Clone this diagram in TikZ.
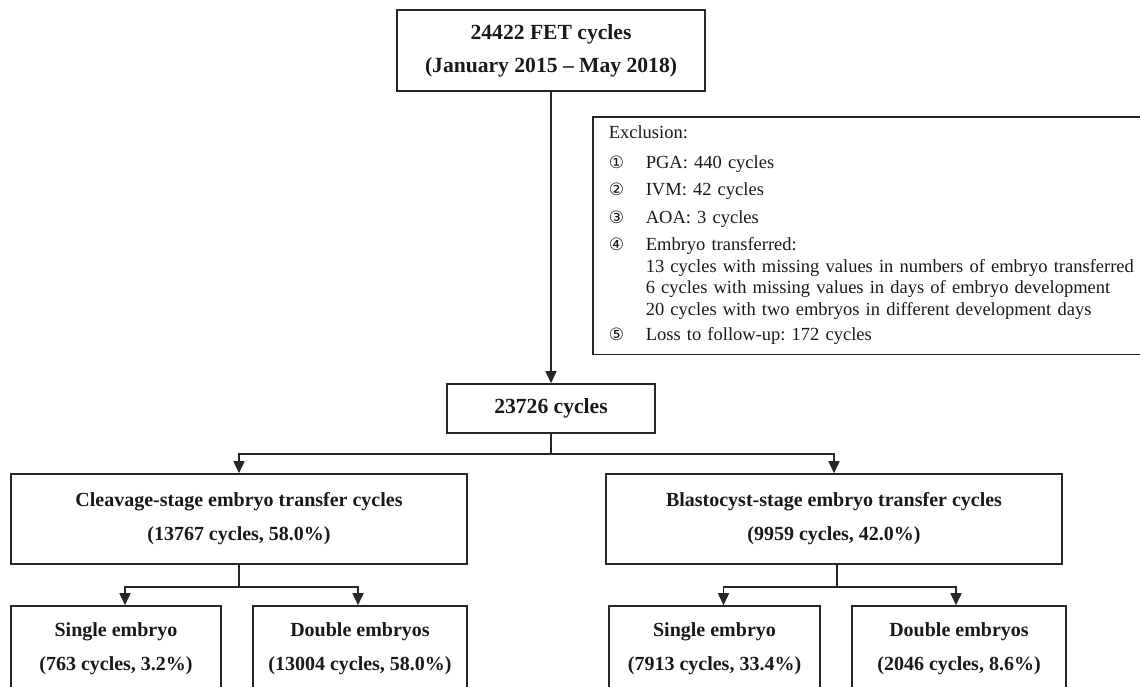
\documentclass[tikz,border=0pt]{standalone}
\usepackage{fontspec}
\setmainfont{Liberation Serif}
\newfontfamily\dejavu{DejaVu Sans}
\usetikzlibrary{positioning}
\usetikzlibrary{arrows.meta}
\newcommand{\cnum}[1]{{\dejavu\fontsize{8.5}{10}\selectfont #1}}
\frenchspacing

\begin{document}
\begin{tikzpicture}[x=0.5pt, y=-0.5pt,
    bx/.style={draw=black!85, line width=0.8pt, align=center, text=black!90, inner sep=0pt, font=\fontsize{10}{17}\selectfont\bfseries},
    bigbx/.style={bx, font=\fontsize{10.8}{16.5}\selectfont\bfseries},
    arr/.style={draw=black!85, line width=0.8pt, -{Triangle[length=6pt,width=5.5pt]}},
    ln/.style={draw=black!85, line width=0.8pt}
    ]
\useasboundingbox (0, 0) rectangle (1140, 686);
\node[bigbx, minimum width=154pt, minimum height=40.5pt] at (551, 50.5) (FET) {24422 FET cycles\\(January 2015 -- May 2018)};
\node[bigbx, minimum width=104pt, minimum height=24.5pt] at (551, 408.5) (ALL) {23726 cycles};
\node[bx, minimum width=228pt, minimum height=45pt] at (239, 519) (CLV) {Cleavage-stage embryo transfer cycles\\(13767 cycles, 58.0\%)};
\node[bx, minimum width=228pt, minimum height=45pt] at (834, 519) (BLS) {Blastocyst-stage embryo transfer cycles\\(9959 cycles, 42.0\%)};
\node[bx, minimum width=105pt, minimum height=43pt] at (116, 649) (CLV1) {Single embryo\\(763 cycles, 3.2\%)};
\node[bx, minimum width=107pt, minimum height=43pt] at (360, 649) (CLV2) {Double embryos\\(13004 cycles, 58.0\%)};
\node[bx, minimum width=105.5pt, minimum height=43pt] at (714.5, 649) (BLS1) {Single embryo\\(7913 cycles, 33.4\%)};
\node[bx, minimum width=107pt, minimum height=43pt] at (959, 649) (BLS2) {Double embryos\\(2046 cycles, 8.6\%)};
\node[draw=black!85, line width=0.8pt, anchor=north west, text=black!90, inner xsep=8pt, inner ysep=3.5pt, text width=272pt, minimum height=118pt, align=left, font=\fontsize{9.25}{10.75}\selectfont] at (592, 116) (EXC) {%
\begin{tabular}{@{}p{18.5pt}@{}l@{}}
\multicolumn{2}{@{}l}{Exclusion:}\\[4pt]
\cnum{①} & PGA: 440 cycles\\[3pt]
\cnum{②} & IVM: 42 cycles\\[3pt]
\cnum{③} & AOA: 3 cycles\\[3pt]
\cnum{④} & Embryo transferred:\\
 & 13 cycles with missing values in numbers of embryo transferred\\
 & 6 cycles with missing values in days of embryo development\\
 & 20 cycles with two embryos in different development days\\[2pt]
\cnum{⑤} & Loss to follow-up: 172 cycles
\end{tabular}};
\draw[arr] (FET) -- (ALL);
\draw[ln] (ALL.south) -- ++(0, 20) coordinate (J0);
\draw[arr] (J0) -| (CLV);
\draw[arr] (J0) -| (BLS);
\draw[ln] (CLV.south) -- ++(0, 22) coordinate (J1);
\draw[arr] (J1) -| ([xshift=4.5pt]CLV1.north);
\draw[arr] (J1) -| ([xshift=-1pt]CLV2.north);
\draw[ln] ([xshift=1.5pt]BLS.south) -- ++(0, 22) coordinate (J2);
\draw[arr] (J2) -| ([xshift=4.5pt]BLS1.north);
\draw[arr] (J2) -| ([xshift=-1.5pt]BLS2.north);
\end{tikzpicture}
\end{document}
